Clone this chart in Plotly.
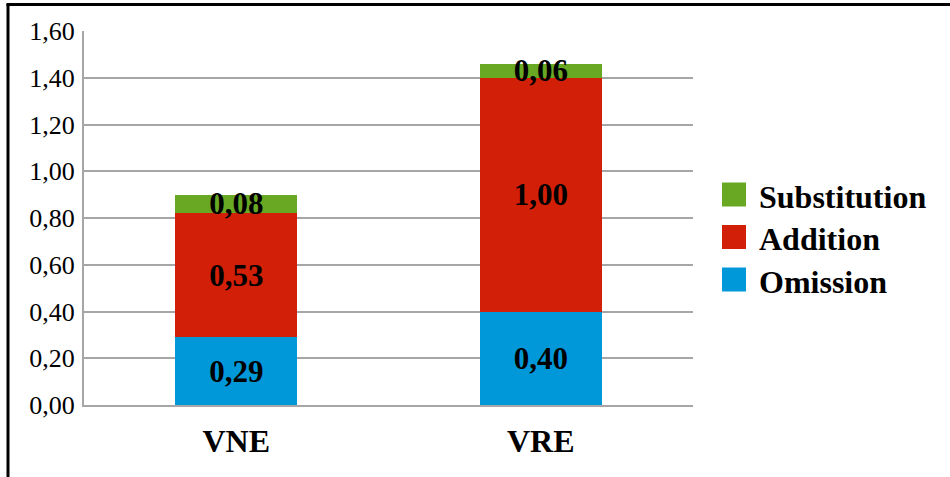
import plotly.graph_objects as go

# Error rates per condition, stacked by error type
categories = ["VNE", "VRE"]
omission = [0.29, 0.40]
addition = [0.53, 1.00]
substitution = [0.08, 0.06]

series_names = ["Omission", "Addition", "Substitution"]
series_values = [omission, addition, substitution]
series_colors = ["#0098d8", "#d21f07", "#69a823"]

y_ticks = [0.0, 0.2, 0.4, 0.6, 0.8, 1.0, 1.2, 1.4, 1.6]

FONT = "Liberation Serif, Times New Roman, serif"

fig = go.Figure()
for name, vals, color in zip(series_names, series_values, series_colors):
    fig.add_trace(go.Bar(
        x=categories, y=vals, name=name,
        marker=dict(color=color, line=dict(width=0)),
        width=0.4,
        text=[f"{v:.2f}".replace(".", ",") for v in vals],
        textposition="inside",
        insidetextanchor="middle",
        textangle=0,
        insidetextfont=dict(family=FONT, size=31, color="black", weight="bold"),
        showlegend=False,
        hoverinfo="skip",
    ))

# Legend drawn as squares with labels, top-to-bottom in reverse stacking order
legend_top = 194.5  # pixel centre of first entry, measured from top of figure
legend_step = 42.5
plot_top, plot_h, plot_left = 31, 374, 84
for i, (name, color) in enumerate(zip(series_names[::-1], series_colors[::-1])):
    cy = legend_top + i * legend_step
    yp = 1 - (cy - plot_top) / plot_h
    fig.add_shape(
        type="rect", xref="paper", yref="paper",
        xsizemode="pixel", ysizemode="pixel",
        xanchor=1, yanchor=yp,
        x0=722 - 693, x1=746 - 693, y0=-12, y1=12,
        fillcolor=color, line=dict(width=0),
    )
    fig.add_annotation(
        xref="paper", yref="paper", x=1, y=yp,
        xshift=757 - 693, yshift=-2, xanchor="left", yanchor="middle",
        text=f"<b>{name}</b>", showarrow=False,
        font=dict(family=FONT, size=32, color="black"),
    )

# Outer frame (top and left edges)
fig.add_shape(type="line", xref="paper", yref="paper",
              xsizemode="pixel", ysizemode="pixel", xanchor=0, yanchor=1,
              x0=-76, x1=-76, y0=27, y1=-480,
              line=dict(color="black", width=3))
fig.add_shape(type="line", xref="paper", yref="paper",
              xsizemode="pixel", ysizemode="pixel", xanchor=0, yanchor=1,
              x0=-77.5, x1=900, y0=26.5, y1=26.5,
              line=dict(color="black", width=3))

fig.update_layout(
    width=950, height=477,
    margin=dict(l=84, r=257, t=31, b=72),
    barmode="stack",
    bargap=0.6,
    plot_bgcolor="white", paper_bgcolor="white",
    separators=", ",
    uniformtext=dict(minsize=31, mode="show"),
    font=dict(family=FONT, color="black"),
)
fig.update_xaxes(
    showgrid=False, showline=True, linecolor="#a6a6a6", linewidth=2,
    ticks="", tickfont=dict(family=FONT, size=32, color="black", weight="bold"),
    ticklabelstandoff=7,
)
fig.update_yaxes(
    range=[0, 1.6], tickvals=y_ticks, tickformat=".2f",
    showgrid=True, gridcolor="#a6a6a6", gridwidth=2,
    showline=True, linecolor="#a6a6a6", linewidth=2,
    zeroline=False, ticks="",
    tickfont=dict(family=FONT, size=26, color="black"),
    ticklabelstandoff=2,
)

fig.write_html("out.html")
